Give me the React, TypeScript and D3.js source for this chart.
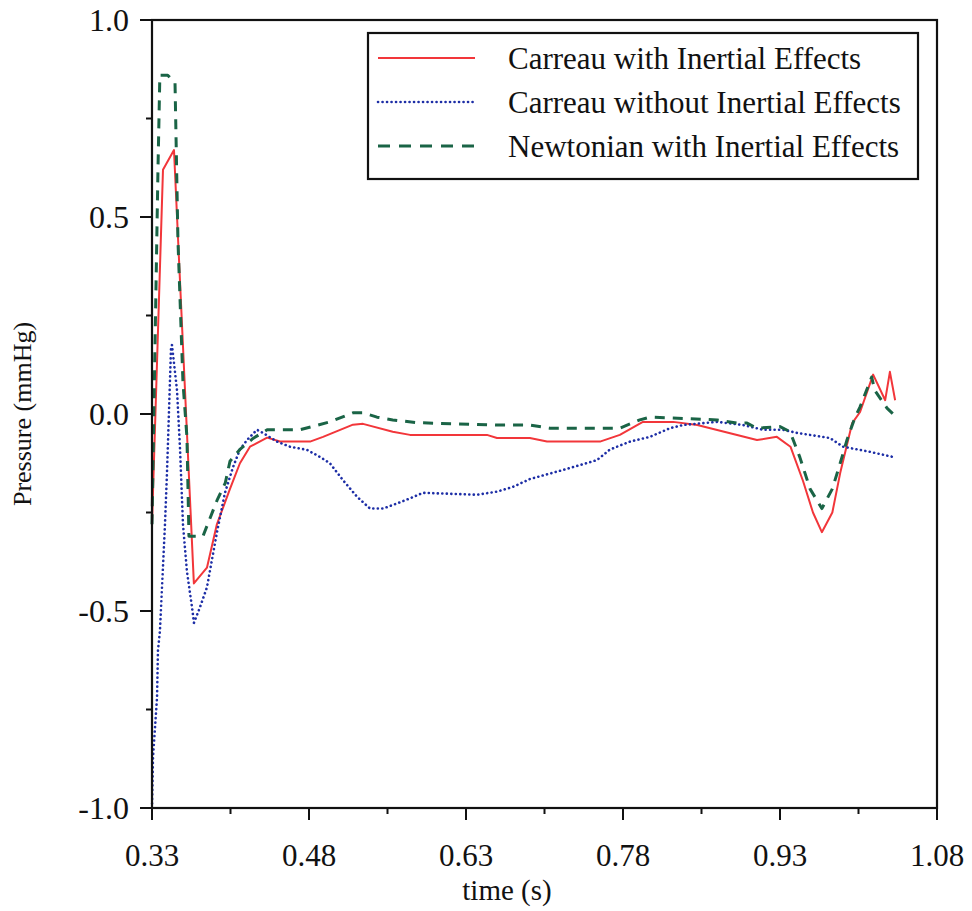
import React from "react";
import * as d3 from "d3";

const redT = [0.330,0.3405,0.351,0.370,0.3825,0.392,0.4045,0.414,0.4236,0.440,0.4523,0.481,0.4934,0.522,0.5316,0.560,0.5765,0.650,0.6596,0.691,0.7074,0.758,0.777,0.799,0.828,0.851,0.908,0.927,0.940,0.952,0.9615,0.970,0.980,0.9875,0.999,1.0065,1.019,1.0305,1.035,1.040];
const redV = [-0.28,0.62,0.67,-0.43,-0.39,-0.28,-0.19,-0.125,-0.083,-0.06,-0.07,-0.07,-0.058,-0.027,-0.025,-0.045,-0.053,-0.053,-0.061,-0.061,-0.07,-0.07,-0.053,-0.02,-0.02,-0.028,-0.066,-0.058,-0.083,-0.17,-0.25,-0.30,-0.25,-0.15,-0.023,0.005,0.10,0.035,0.107,0.035];

const blueT = [0.330,0.331,0.3348,0.3357,0.3376,0.3424,0.3443,0.3453,0.3482,0.3491,0.3539,0.3568,0.3596,0.3634,0.3682,0.3701,0.3759,0.3825,0.3873,0.3921,0.3997,0.4074,0.414,0.4208,0.4303,0.436,0.4494,0.4618,0.4781,0.4905,0.5,0.5125,0.5259,0.5383,0.5507,0.5641,0.5765,0.5889,0.6405,0.6596,0.6749,0.6911,0.7227,0.7551,0.7676,0.7867,0.8058,0.8249,0.8373,0.8698,0.8947,0.9138,0.9329,0.9463,0.9778,0.9902,1.016,1.038];
const blueV = [-1.0,-0.87,-0.72,-0.6,-0.55,-0.28,-0.15,-0.07,0.17,0.175,0.06,-0.09,-0.28,-0.40,-0.49,-0.53,-0.49,-0.44,-0.37,-0.30,-0.2,-0.135,-0.09,-0.066,-0.04,-0.048,-0.07,-0.083,-0.091,-0.109,-0.125,-0.168,-0.21,-0.24,-0.24,-0.227,-0.214,-0.2,-0.205,-0.197,-0.185,-0.165,-0.142,-0.117,-0.09,-0.07,-0.058,-0.036,-0.028,-0.02,-0.028,-0.04,-0.04,-0.048,-0.061,-0.083,-0.096,-0.109];

const greenT = [0.330,0.3357,0.3375,0.345,0.352,0.3548,0.3596,0.3634,0.3653,0.3787,0.392,0.400,0.4045,0.414,0.4265,0.440,0.4714,0.4829,0.500,0.522,0.5316,0.545,0.560,0.583,0.6596,0.691,0.710,0.777,0.796,0.8058,0.870,0.889,0.8985,0.908,0.930,0.9396,0.949,0.9587,0.970,0.980,0.9875,0.994,1.0017,1.0065,1.0176,1.0205,1.0322,1.040];
const greenV = [-0.28,0.62,0.86,0.86,0.84,0.44,0.08,-0.06,-0.31,-0.31,-0.22,-0.175,-0.12,-0.09,-0.062,-0.04,-0.04,-0.032,-0.02,0.003,0.003,-0.008,-0.015,-0.022,-0.028,-0.028,-0.036,-0.036,-0.015,-0.008,-0.015,-0.023,-0.023,-0.036,-0.032,-0.045,-0.11,-0.19,-0.24,-0.19,-0.125,-0.066,-0.008,0.018,0.094,0.06,0.015,-0.005];

const xTicks = [0.33, 0.48, 0.63, 0.78, 0.93, 1.08];
const xTickLabels = ["0.33", "0.48", "0.63", "0.78", "0.93", "1.08"];
const yTicks = [-1.0, -0.5, 0.0, 0.5, 1.0];
const yTickLabels = ["-1.0", "-0.5", "0.0", "0.5", "1.0"];
const seriesNames = ["Carreau with Inertial Effects", "Carreau without Inertial Effects", "Newtonian with Inertial Effects"];

export default function App() {
  const left = 152, right = 937, top = 20, bottom = 808;
  const x = d3.scaleLinear().domain([0.33, 1.08]).range([left, right]);
  const y = d3.scaleLinear().domain([-1, 1]).range([bottom, top]);
  const line = d3.line<[number, number]>().x(d => x(d[0])).y(d => y(d[1]));
  const red = redT.map((t, i) => [t, redV[i]] as [number, number]);
  const blue = blueT.map((t, i) => [t, blueV[i]] as [number, number]);
  const green = greenT.map((t, i) => [t, greenV[i]] as [number, number]);
  const minorX = d3.range(0, 11).map(i => 0.33 + i * 0.075);
  const minorY = d3.range(0, 9).map(i => -1 + i * 0.25);
  const font = "'Liberation Serif', 'Times New Roman', serif";
  const colors = ["#f2363a", "#1d2ea6", "#1a6446"];
  const styles = [
    { w: 2, dash: "none", cap: "butt" },
    { w: 2.6, dash: "0.1 4.4", cap: "round" },
    { w: 3, dash: "10 8", cap: "butt" },
  ];
  const data = [red, blue, green];
  return (
    <svg width={972} height={911} style={{ position: "absolute", left: 0, top: 0, background: "#fff" }}>
      <rect x={0} y={0} width={972} height={911} fill="#fff" />
      {data.map((d, i) => (
        <path key={i} d={line(d) || ""} fill="none" stroke={colors[i]} strokeWidth={styles[i].w}
          strokeDasharray={styles[i].dash} strokeLinecap={styles[i].cap as any} strokeLinejoin="round" />
      ))}
      <rect x={left} y={top} width={right - left} height={bottom - top} fill="none" stroke="#111" strokeWidth={2.2} />
      {minorX.map((v, i) => (
        <line key={"mx" + i} x1={x(v)} x2={x(v)} y1={bottom} y2={bottom + (i % 2 === 0 ? 12 : 6)} stroke="#111" strokeWidth={2} />
      ))}
      {minorY.map((v, i) => (
        <line key={"my" + i} x1={left} x2={left - (i % 2 === 0 ? 12 : 6)} y1={y(v)} y2={y(v)} stroke="#111" strokeWidth={2} />
      ))}
      {xTicks.map((v, i) => (
        <text key={"xl" + i} x={x(v)} y={866} textAnchor="middle" fontFamily={font} fontSize={31} fill="#111">{xTickLabels[i]}</text>
      ))}
      {yTicks.map((v, i) => (
        <text key={"yl" + i} x={129} y={y(v) + 11} textAnchor="end" fontFamily={font} fontSize={32} fill="#111">{yTickLabels[i]}</text>
      ))}
      <text x={507} y={900} textAnchor="middle" fontFamily={font} fontSize={29} fill="#111">time (s)</text>
      <text transform={`translate(31,414) rotate(-90)`} textAnchor="middle" fontFamily={font} fontSize={26} fill="#111">Pressure (mmHg)</text>
      <rect x={368} y={33} width={550} height={146} fill="#fff" stroke="#111" strokeWidth={2.2} />
      {seriesNames.map((n, i) => (
        <g key={"lg" + i}>
          <line x1={378} x2={475} y1={58 + i * 44} y2={58 + i * 44} stroke={colors[i]} strokeWidth={styles[i].w}
            strokeDasharray={i === 2 ? "12 9" : styles[i].dash} strokeLinecap={styles[i].cap as any} />
          <text x={508} y={69 + i * 44} fontFamily={font} fontSize={31} fill="#111">{n}</text>
        </g>
      ))}
    </svg>
  );
}
